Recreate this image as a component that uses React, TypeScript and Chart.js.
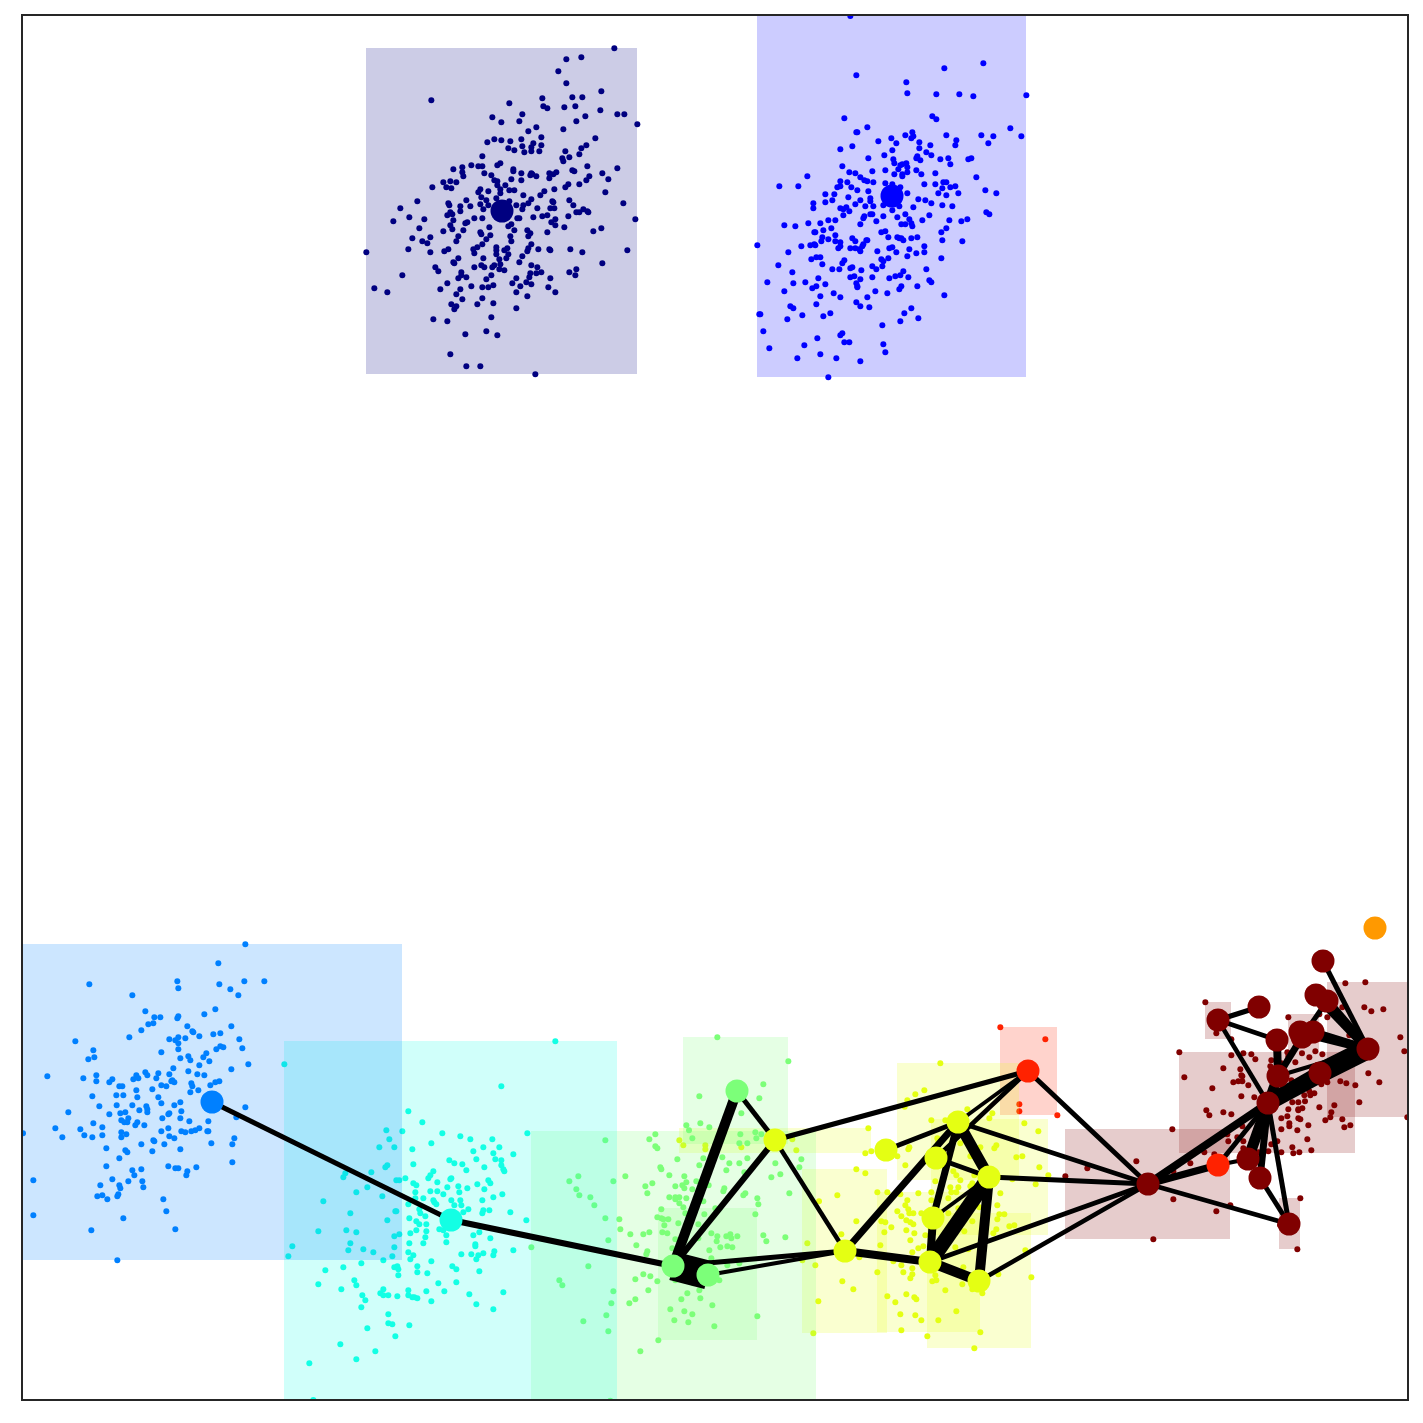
import React, { useEffect, useRef } from "react";
import { Chart, registerables } from "chart.js";

Chart.register(...registerables);

// Readings taken from enlarged views of the picture: [origin x, origin y] plus flat x,y pairs at 3x.
const navyView = [360, 30];
const navyDots = [763,55,664,82,619,88,595,124,619,160,724,184,637,202,667,202,547,205,214,211,448,220,550,229,562,235,613,232,646,229,721,241,772,253,793,253,832,283,676,259,649,274,487,253,397,262,478,274,424,277,529,292,505,304,610,298,706,325,544,322,484,328,403,328,424,331,382,337,451,334,520,340,544,346,487,349,679,346,664,355,445,355,463,361,493,367,514,352,514,364,538,364,616,364,658,373,367,379,607,385,628,382,610,394,421,400,412,406,334,406,355,409,367,409,307,412,280,418,682,409,772,415,460,418,460,424,637,421,643,424,307,427,373,430,484,430,514,430,517,433,529,439,568,430,580,433,589,427,727,430,310,439,394,436,511,436,568,445,688,439,745,448,454,448,484,451,403,451,412,454,250,457,271,454,289,457,679,451,658,463,625,463,616,472,436,466,412,466,217,472,259,472,274,475,421,478,448,481,463,481,361,478,355,487,421,490,385,484,583,478,553,484,541,496,490,496,736,487,364,502,409,505,379,511,319,511,172,514,514,508,505,520,628,511,577,514,580,517,790,520,265,520,268,526,361,523,385,526,301,529,331,529,448,514,469,526,490,526,640,526,121,535,370,538,487,538,532,535,571,535,583,535,670,538,301,544,271,547,649,547,658,547,682,544,685,547,262,556,277,553,148,562,193,568,343,565,367,565,472,565,478,565,520,562,547,559,562,556,625,559,826,568,100,574,280,571,322,577,316,580,586,568,574,577,271,586,586,586,454,583,445,589,178,595,277,598,310,601,250,604,388,592,463,601,502,601,613,592,724,595,700,604,562,607,361,607,364,613,511,610,505,619,391,616,295,619,211,622,157,625,451,619,379,628,187,634,202,640,289,634,454,634,367,643,514,643,352,652,340,658,409,652,145,658,265,658,253,664,409,661,442,655,433,661,505,655,502,664,535,658,568,658,571,661,631,658,667,667,802,661,19,667,211,667,343,670,409,673,445,673,487,679,439,685,370,685,295,685,418,688,280,697,283,700,478,697,727,700,364,706,343,712,373,712,403,706,397,712,421,703,226,712,235,724,514,706,532,712,649,718,628,727,646,736,418,718,433,721,304,727,511,730,529,730,544,727,127,736,394,736,319,742,304,736,295,745,379,748,469,745,508,742,571,745,262,760,457,760,499,757,514,763,400,766,385,772,367,772,334,769,481,769,565,772,43,775,241,778,301,778,82,787,289,793,469,787,586,787,502,799,367,805,307,808,274,823,352,823,400,820,289,829,283,838,469,835,394,862,220,868,262,874,379,904,316,913,412,916,271,973,319,1009,361,1009,526,1033];

const blueView = [750, 10];
const blueDots = [301,18,700,160,583,175,319,196,469,217,472,250,559,253,628,253,670,259,829,256,547,319,559,328,283,325,352,352,781,355,319,367,322,367,487,367,466,376,490,379,484,385,424,385,589,376,694,376,730,379,814,379,619,391,385,394,439,400,508,397,715,400,616,406,307,409,541,406,271,418,427,421,508,415,529,427,544,436,403,436,355,445,502,439,499,445,511,451,571,448,595,445,655,448,664,445,430,448,433,460,601,463,277,469,457,463,469,460,451,466,472,472,445,478,367,484,406,481,499,481,472,487,298,487,316,490,433,493,457,493,457,499,514,493,556,490,172,499,679,502,331,502,343,511,352,514,88,529,145,529,271,514,292,517,370,517,406,520,427,523,523,523,556,523,580,517,589,517,616,529,601,532,577,535,271,529,262,532,304,532,322,541,355,544,451,532,706,541,739,550,226,553,253,553,472,550,565,550,589,556,625,550,295,562,505,568,526,571,247,571,226,577,190,580,331,571,361,565,361,574,316,583,544,580,346,589,370,589,400,586,490,592,577,586,607,589,190,595,271,595,289,592,280,598,298,604,427,601,448,589,280,616,361,613,367,613,343,619,340,625,400,619,442,622,466,613,538,616,517,631,478,628,709,607,718,613,652,628,634,634,598,631,235,631,256,631,379,634,175,640,211,640,331,643,454,643,466,643,484,640,487,649,103,646,136,649,244,655,589,655,574,667,220,661,193,667,196,667,394,667,406,664,256,676,415,682,217,682,442,682,448,685,454,685,460,691,484,685,502,682,214,694,235,688,256,694,271,697,307,685,316,694,349,691,352,691,577,691,637,694,181,706,193,703,196,706,22,706,154,709,340,703,337,709,271,709,265,715,301,715,316,715,328,718,331,724,523,709,427,712,418,715,478,718,382,724,115,727,439,727,499,730,523,727,472,739,184,748,199,742,211,742,574,745,415,745,394,748,400,754,283,751,277,760,217,763,85,766,367,769,397,769,379,778,247,778,268,778,301,775,307,772,334,781,529,778,460,784,127,787,451,796,436,799,301,802,313,799,367,802,418,805,475,802,205,805,331,808,538,811,544,817,52,817,166,817,130,820,226,823,319,820,322,829,322,832,199,829,187,835,502,829,454,829,448,838,103,844,376,844,251,850,412,850,211,859,271,862,352,862,583,856,319,877,199,883,331,889,358,892,121,889,130,895,484,895,463,910,241,910,157,916,220,919,28,913,31,913,505,925,112,928,451,934,397,946,40,964,277,970,271,976,202,985,283,997,298,997,400,1003,163,1006,58,1015,406,1027,211,1033,142,1045,259,1045,331,1054,235,1102];

const azureView = [15, 930];
const azureDots = [691,43,610,100,487,154,613,163,688,154,748,154,223,163,490,175,646,178,670,196,352,196,601,238,391,244,568,253,490,259,487,265,418,262,436,262,415,280,400,283,517,289,649,289,379,301,532,304,535,307,595,313,616,310,553,319,343,322,463,328,490,322,511,325,481,331,673,328,181,334,490,340,616,349,625,352,682,355,604,358,235,361,490,358,439,367,574,370,238,382,220,388,565,382,520,379,496,385,526,391,583,394,553,406,700,403,475,415,649,418,520,424,391,427,397,436,430,430,547,433,568,436,463,433,97,439,244,436,205,445,364,436,355,448,370,445,424,445,244,454,292,448,283,457,472,451,478,457,469,454,613,454,601,457,586,466,529,460,532,469,313,469,322,469,439,466,454,469,364,481,412,478,550,481,526,487,304,496,325,496,232,499,367,502,430,502,439,520,496,517,478,526,305,526,352,526,253,529,394,529,397,538,397,547,373,541,499,544,691,532,160,547,331,547,316,550,283,553,463,550,460,553,664,562,442,565,496,565,340,565,319,571,328,577,337,577,523,574,580,574,367,577,361,586,388,586,235,580,121,595,196,598,262,592,460,595,553,595,541,601,529,604,499,604,511,607,439,604,577,604,580,604,319,607,334,613,24,610,208,616,262,616,142,622,232,622,319,622,463,619,478,625,658,625,415,631,418,634,379,643,448,643,589,640,652,643,274,655,331,661,337,667,412,664,496,658,313,685,652,697,274,709,460,709,481,715,490,715,544,712,379,718,352,721,517,724,514,736,358,736,292,748,340,754,382,754,55,751,256,766,313,766,316,775,385,772,262,796,247,799,310,793,307,799,277,808,445,808,454,844,55,856,325,865,229,901,481,898,307,991];

const tealView = [280, 1030];
const tealDots = [826,34,13,103,664,169,385,244,427,277,319,301,367,304,487,310,541,319,742,310,328,328,571,328,637,328,454,340,298,352,343,352,397,358,610,352,658,352,580,364,640,370,700,373,589,388,508,391,646,388,664,391,523,400,400,403,547,403,613,412,664,406,559,421,670,418,673,424,322,406,316,412,274,427,460,424,451,436,445,445,196,430,190,442,376,445,349,451,358,451,514,445,511,448,625,451,472,457,400,460,409,466,631,460,592,463,535,469,502,472,262,472,562,475,613,478,229,487,451,484,472,484,406,487,538,487,490,493,667,493,307,499,640,502,406,505,430,505,130,514,460,511,514,511,541,511,607,511,463,517,469,523,385,523,523,526,544,526,565,538,610,541,628,541,418,538,421,550,349,544,346,544,211,550,607,550,550,547,691,547,436,559,388,565,322,571,739,571,409,574,418,583,439,583,115,604,199,601,229,607,478,598,490,601,409,601,439,604,391,610,358,613,343,619,598,607,499,616,580,616,436,622,631,625,211,640,388,640,430,640,499,637,37,649,586,643,586,649,343,652,205,661,250,658,280,667,385,667,700,661,643,664,610,670,544,673,574,673,595,676,640,676,25,679,337,679,400,676,391,688,589,688,310,691,454,694,244,700,136,721,190,712,343,712,352,709,355,718,412,709,517,709,529,718,598,724,412,727,442,730,355,736,223,751,115,763,229,766,475,760,529,757,310,778,184,778,385,781,439,784,493,784,670,787,568,793,301,790,310,796,325,796,247,796,352,799,385,796,397,802,403,802,412,805,256,811,454,814,244,832,589,823,640,838,325,853,325,880,337,883,388,886,262,895,346,919,181,943,286,964,229,988,88,1000,100,1110];

const greenView = [530, 1030];
const greenDots = [562,22,775,94,700,163,688,205,508,199,634,250,511,280,469,286,538,292,477,301,631,313,676,307,694,313,376,313,358,328,226,331,679,325,487,325,628,340,652,340,376,349,382,355,520,385,442,388,577,382,652,385,598,400,628,400,508,406,736,400,814,388,808,412,391,412,394,418,589,421,643,427,418,436,463,439,145,439,286,439,724,442,751,433,118,454,250,454,367,460,499,454,346,469,436,469,457,466,463,475,469,457,536,466,487,478,139,478,583,475,580,484,352,490,148,496,181,502,778,490,646,490,640,496,418,502,436,502,448,502,469,505,436,508,682,505,193,526,448,520,520,514,685,523,460,532,394,538,556,535,226,565,268,568,382,562,394,565,400,568,415,568,523,553,466,550,676,553,271,598,403,586,445,580,505,583,301,613,340,613,358,607,397,607,412,610,544,610,562,619,589,619,601,613,622,619,604,625,700,616,709,634,766,622,235,631,436,628,505,625,560,634,319,646,571,652,592,649,607,652,427,655,352,664,349,673,538,661,4,652,544,685,175,709,592,706,628,700,340,733,361,739,88,751,316,748,382,754,436,751,97,766,490,760,568,751,250,784,355,781,508,781,472,790,511,805,316,808,454,808,244,820,298,820,547,826,421,838,229,856,463,844,487,853,682,859,160,874,433,871,475,877,553,889,235,904,385,931,331,964,241,1112];
const yellowExtraDots = [448,331,460,346,526,346,526,358,634,352,787,328,799,361];

const yellowView = [790, 1020];
const yellowDots = [451,130,403,211,376,223,352,241,344,260,235,325,532,268,607,280,598,295,424,301,466,301,703,310,745,334,442,355,511,370,445,365,322,409,358,382,355,388,226,400,244,394,346,436,199,448,226,460,619,376,613,385,571,382,541,409,679,412,697,409,748,442,775,466,490,454,499,466,553,466,511,481,436,484,667,478,737,493,547,490,541,499,481,502,505,502,484,517,499,517,262,517,292,517,331,523,385,520,424,517,631,520,142,526,87,544,352,541,424,541,475,535,346,556,622,556,568,562,505,565,355,568,370,580,358,580,322,574,334,589,394,580,475,580,628,583,643,583,622,598,199,604,274,604,286,607,349,601,361,607,370,613,547,604,304,622,349,631,373,640,283,637,658,619,673,616,619,628,610,640,523,634,154,643,406,646,361,661,52,670,271,676,400,679,385,685,367,697,496,682,535,688,706,691,208,712,310,724,334,736,76,736,37,721,367,745,262,757,340,757,367,763,361,775,436,766,520,742,625,763,724,772,157,784,427,784,439,781,190,808,466,811,517,793,547,808,577,820,292,829,349,823,373,832,379,838,85,844,316,847,331,883,376,886,499,874,394,901,445,901,334,931,571,937,70,940,412,949,553,985];
const redDots = [631,22,766,58,688,253,688,274,802,286];

const maroonView = [1060, 910];
const maroonDots = [856,220,916,217,436,277,847,292,913,292,934,304,970,298,802,322,685,322,778,313,469,370,514,388,868,376,1021,382,358,427,514,436,550,430,574,433,586,448,634,451,682,427,685,439,726,430,748,442,766,424,787,433,1033,424,706,457,664,460,490,475,541,478,631,469,925,490,373,502,544,496,547,499,520,517,535,514,547,514,565,526,694,511,802,517,784,523,841,514,859,520,886,526,958,517,457,535,544,559,583,562,733,556,748,544,751,556,763,550,735,574,715,577,697,577,898,577,778,592,823,586,685,598,715,601,727,595,439,601,448,616,490,607,514,613,715,598,814,607,811,622,682,619,664,625,715,625,721,628,796,631,847,628,688,640,688,649,664,658,712,661,745,646,853,652,871,646,337,658,547,649,502,673,505,694,550,694,652,694,742,688,532,682,634,703,433,727,463,733,550,715,595,727,625,724,664,727,697,712,700,730,718,727,754,721,229,754,391,760,82,775,16,799,340,784,340,868,469,904,511,886,721,865,280,988,712,1018,1042,622,660,945];

// Covers: x0, x1, y0, y1
const navyRects = [[366,637,48,374]];
const blueRects = [[757,1026,15,377]];
const azureRects = [[22,402,944,1260]];
const tealRects = [[284,617,1041,1400]];
const greenRects = [[531,816,1131,1400],[683,788,1037,1144],[658,757,1208,1340]];
const yellowRects = [[679,871,1128,1153],[802,887,1169,1333],[877,980,1192,1332],[927,1031,1213,1348],[931,1048,1119,1235],[897,1019,1063,1180]];
const redRects = [[1000,1057,1027,1115]];
const maroonRects = [[1065,1230,1129,1239],[1179,1355,1052,1153],[1327,1408,982,1117],[1205,1231,1002,1039],[1279,1300,1198,1249],[1288,1319,1014,1052]];

const navy = "0,0,128", blue = "0,0,255", azure = "0,128,255", teal = "19,255,228", green = "124,255,121", yellow = "228,255,19", red = "255,34,0", maroon = "128,0,0", orange = "255,153,0";

// Nodes: x, y, colour
const nodes: [number, number, string][] = [
  [502,211,navy],[892,196,blue],[212,1102,azure],[451,1220,teal],
  [737,1091,green],[673,1266,green],[708,1275,green],
  [775,1140,yellow],[845,1251,yellow],[886,1150,yellow],[958,1122,yellow],[936,1158,yellow],[989,1177,yellow],[933,1218,yellow],[930,1262,yellow],[979,1281,yellow],
  [1028,1071,red],[1148,1184,maroon],[1218,1165,red],[1268,1103,maroon],[1248,1159,maroon],[1260,1178,maroon],[1289,1224,maroon],
  [1278,1076,maroon],[1277,1040,maroon],[1320,1073,maroon],[1368,1049,maroon],[1218,1020,maroon],[1259,1007,maroon],[1316,995,maroon],[1327,1001,maroon],[1323,961,maroon],
  [1300,1032,maroon],[1302,1037,maroon],[1313,1032,maroon],[1375,928,orange],
];

// Edges: node index, node index, weight
const edges = [
  [2,3,5],[3,5,6],[5,4,10],[5,6,29],[5,7,6],[4,7,5],[6,8,4],[5,8,5],[7,8,4.5],[7,16,5],
  [8,14,8],[8,10,7],[14,15,10],[14,12,15],[15,12,10],[10,13,7],[13,14,8],[10,12,11],[11,12,5],[13,12,4],
  [10,16,4],[11,16,4.5],[9,10,5],[10,17,4.5],[12,17,5],[14,17,5],[15,17,4.5],[16,17,5],
  [17,19,8],[17,18,7],[18,20,4],[17,22,4.5],[18,19,5],[19,25,15],[25,26,20],[19,26,16],[19,20,11],[19,21,7],[19,22,5],[21,22,5],
  [19,23,10],[23,24,8],[23,33,7],[23,26,4],[24,27,4.5],[19,27,4.5],[27,28,5],[32,26,9],[34,26,8],[29,26,9],[30,26,9],[31,26,5],[33,30,5],
];

const fromView = (view: number[], list: number[]) => {
  const out: { x: number; y: number }[] = [];
  for (let i = 0; i < list.length; i += 2) out.push({ x: view[0] + list[i] / 3, y: view[1] + list[i + 1] / 3 });
  return out;
};

const dotSet = (points: { x: number; y: number }[], rgb: string) => ({
  data: points, showLine: false, pointRadius: 3, pointHoverRadius: 3, pointBorderWidth: 0,
  pointBackgroundColor: `rgb(${rgb})`,
});
const rectSet = (r: number[], rgb: string) => ({
  data: [{ x: r[0], y: r[2] }, { x: r[1], y: r[2] }, { x: r[1], y: r[3] }, { x: r[0], y: r[3] }, { x: r[0], y: r[2] }],
  showLine: true, fill: "shape", backgroundColor: `rgba(${rgb},0.2)`, borderWidth: 0, borderColor: "rgba(0,0,0,0)", pointRadius: 0, tension: 0,
});

const groups: [{ x: number; y: number }[], number[][], string][] = [
  [fromView(maroonView, maroonDots), maroonRects, maroon],
  [fromView(yellowView, redDots), redRects, red],
  [[...fromView(yellowView, yellowDots), ...fromView(greenView, yellowExtraDots)], yellowRects, yellow],
  [fromView(greenView, greenDots), greenRects, green],
  [fromView(tealView, tealDots), tealRects, teal],
  [fromView(azureView, azureDots), azureRects, azure],
  [fromView(blueView, blueDots), blueRects, blue],
  [fromView(navyView, navyDots), navyRects, navy],
];

const frame = {
  id: "frame",
  afterDraw(chart: any) {
    const { ctx, chartArea: a } = chart;
    ctx.save();
    ctx.strokeStyle = "#262626";
    ctx.lineWidth = 2;
    ctx.strokeRect(a.left, a.top, a.right - a.left, a.bottom - a.top);
    ctx.restore();
  },
};

export default function App() {
  const ref = useRef<HTMLCanvasElement>(null);
  useEffect(() => {
    const drawOrder: any[] = [];
    for (const [pts, rects, rgb] of groups) {
      drawOrder.push(dotSet(pts, rgb));
      for (const r of rects) drawOrder.push(rectSet(r, rgb));
    }
    for (const [a, b, w] of edges) {
      drawOrder.push({
        data: [{ x: nodes[a][0], y: nodes[a][1] }, { x: nodes[b][0], y: nodes[b][1] }],
        showLine: true, borderColor: "#000", borderWidth: w, pointRadius: 0, fill: false, tension: 0,
      });
    }
    for (const [x, y, rgb] of nodes) {
      drawOrder.push({
        data: [{ x, y }], showLine: false, pointRadius: 11.5, pointHoverRadius: 11.5, pointBorderWidth: 0,
        pointBackgroundColor: `rgb(${rgb})`,
      });
    }
    // Chart.js paints the lowest index last, so reverse to keep the list in paint order.
    const chart = new Chart(ref.current!, {
      type: "scatter",
      data: { datasets: drawOrder.reverse() },
      options: {
        animation: false,
        responsive: false,
        events: [],
        layout: { padding: { left: 22, top: 15, right: 15, bottom: 23 } },
        plugins: { legend: { display: false }, tooltip: { enabled: false } },
        scales: {
          x: { type: "linear", min: 22, max: 1408, display: false },
          y: { type: "linear", min: 15, max: 1400, reverse: true, display: false },
        },
      },
      plugins: [frame],
    } as any);
    return () => chart.destroy();
  }, []);
  return <canvas ref={ref} width={1423} height={1423} style={{ position: "absolute", left: 0, top: 0, display: "block", background: "#fff" }} />;
}
